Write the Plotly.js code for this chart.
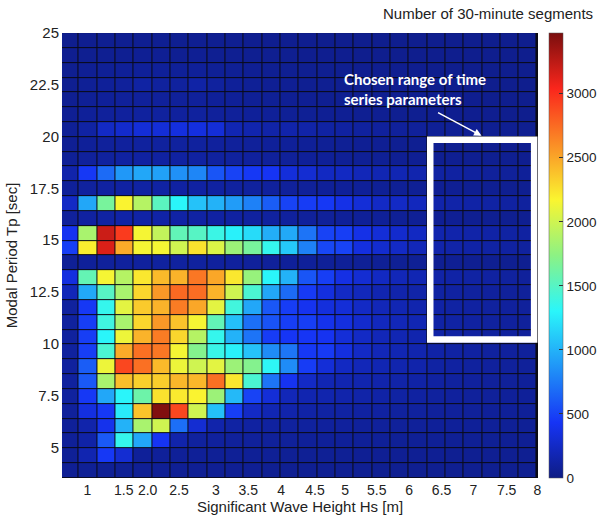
<!DOCTYPE html>
<html>
<head>
<meta charset="utf-8">
<script src="https://cdn.plot.ly/plotly-3.0.1.min.js"></script>
<style>
  html, body { margin: 0; padding: 0; background: #ffffff; }
  #chart { width: 597px; height: 521px; }
</style>
</head>
<body>
<div id="chart"></div>
<script>
// Hs bins (column index) tick labels
const hsTickLabels = ["1", "1.5", "2.0", "2.5", "3", "3.5", "4", "4.5", "5", "5.5", "6", "6.5", "7", "7.5", "8"];
const hsTickPos = [0.97, 2.96, 4.26, 5.97, 7.99, 9.75, 11.54, 13.39, 15.03, 16.76, 18.53, 20.30, 22.03, 23.85, 25.52];

// Tp bins: 30 rows from bottom (≈3.9 s) to top (≈24.6 s)
const tpFirst = 3.876;
const tpStep = 0.7161;

// Counts of 30-minute segments, rows bottom -> top, columns left -> right (26 Hs bins)
const r00 = [60,65,65,65,60,60,60,60,60,60,60,55,55,55,55,55,55,50,50,50,50,50,50,50,50,50];
const r01 = [70,170,450,300,80,80,75,75,70,70,70,70,65,65,65,65,60,60,60,60,60,55,55,55,55,55];
const r02 = [75,130,600,1350,950,430,150,100,95,90,90,85,85,80,80,80,75,75,70,70,70,65,65,65,60,60];
const r03 = [80,150,400,1000,1850,2000,700,300,150,120,110,105,100,100,95,95,90,90,85,85,80,80,75,75,70,70];
const r04 = [90,350,450,1250,2380,3450,2900,2000,1060,480,250,180,150,130,120,120,110,110,100,100,90,90,85,80,80,75];
const r05 = [100,450,950,1300,1600,2250,2220,2180,1800,1030,500,320,200,170,160,150,140,130,120,110,100,95,90,85,80,80];
const r06 = [100,600,1850,2400,2330,2340,2430,2430,2730,2230,1450,720,420,250,180,170,160,150,140,130,110,100,95,90,85,80];
const r07 = [100,620,2120,2900,2730,2420,2120,2000,2080,1800,1700,1320,830,470,320,240,200,180,160,150,120,110,100,95,90,85];
const r08 = [100,480,1450,2480,2730,2700,2150,1700,1370,1280,1070,830,730,450,460,350,250,200,180,160,130,120,110,100,95,90];
const r09 = [100,480,1300,2120,2450,2680,2300,1900,1350,1000,720,470,440,440,420,320,250,200,180,160,130,120,110,100,95,90];
const r10 = [100,480,1400,1850,2300,2560,2380,2150,1550,1060,700,575,480,480,400,350,280,220,200,180,130,120,110,100,95,90];
const r11 = [100,450,1350,2080,2350,2450,2680,2500,2080,1410,950,590,475,410,340,320,250,200,180,160,130,120,110,100,95,90];
const r12 = [200,960,1500,1850,2300,2560,2760,2740,2450,2000,1450,950,680,460,350,250,210,170,150,140,120,110,100,95,90,85];
const r13 = [350,1560,2150,1900,2230,2420,2450,2700,2500,2230,1780,1300,1000,580,480,370,300,240,200,180,140,130,120,110,100,90];
const r14 = [70,80,90,95,95,100,100,100,95,95,90,85,80,80,75,75,70,70,65,65,60,60,55,55,50,50];
const r15 = [480,2200,3150,2480,2150,2150,2000,2250,2050,1800,1650,1350,1100,780,520,500,350,290,250,200,150,140,130,120,110,100];
const r16 = [420,1850,3200,2950,2150,1950,1550,1500,1380,1280,1180,980,960,720,500,480,380,320,280,240,160,150,140,130,120,110];
const r17 = [90,110,120,130,130,130,125,120,115,110,105,100,95,90,85,80,75,75,70,70,60,60,55,55,50,50];
const r18 = [250,950,1650,2180,1900,1520,1300,1070,1000,900,780,620,500,470,450,380,320,250,250,220,150,140,130,120,110,100];
const r19 = [80,100,110,115,120,120,115,115,110,105,100,95,90,85,80,80,75,70,70,65,60,60,55,55,50,50];
const r20 = [150,450,680,880,950,920,850,800,580,500,450,430,330,300,240,240,200,180,180,160,120,110,100,90,85,80];
const r21 = [70,90,100,110,110,110,110,110,105,100,95,90,85,80,75,70,65,65,60,60,55,55,50,50,50,45];
const r22 = [60,80,90,95,100,100,100,100,95,90,85,80,80,75,70,65,60,60,55,55,50,50,50,45,45,45];
const r23 = [70,120,250,280,320,320,350,350,320,180,160,140,150,140,120,110,100,95,90,85,70,65,60,55,55,50];
const r24 = [60,80,90,95,100,100,95,100,90,85,80,75,70,65,60,60,55,55,50,50,45,45,45,45,40,40];
const r25 = [55,70,80,85,90,90,85,90,80,75,70,65,60,60,55,55,50,50,50,45,45,45,45,40,40,40];
const r26 = [50,70,80,90,120,100,100,130,100,80,70,60,60,55,55,50,50,50,45,45,40,40,40,40,40,40];
const r27 = [50,60,70,75,80,80,75,80,70,65,60,55,55,50,50,50,45,45,45,45,40,40,40,40,40,40];
const r28 = [45,50,55,55,60,60,55,60,55,55,50,50,50,45,45,45,40,40,40,40,40,40,40,40,40,40];
const r29 = [40,45,50,50,55,55,50,55,50,50,45,45,45,45,40,40,40,40,40,40,40,40,40,40,40,40];

const counts = [r00,r01,r02,r03,r04,r05,r06,r07,r08,r09,r10,r11,r12,r13,r14,r15,r16,r17,r18,r19,r20,r21,r22,r23,r24,r25,r26,r27,r28,r29];

const colorbarTitle = "Number of 30-minute segments";
const noteText = "Chosen range of time<br>series parameters";

const jetLike = [
  [0.000, 'rgb(14,28,132)'],
  [0.125, 'rgb(22,52,245)'],
  [0.375, 'rgb(42,246,250)'],
  [0.500, 'rgb(140,242,132)'],
  [0.625, 'rgb(250,245,48)'],
  [0.875, 'rgb(250,38,28)'],
  [1.000, 'rgb(122,14,14)']
];

const trace = {
  type: 'heatmap',
  z: counts,
  x0: 0, dx: 1,
  y0: tpFirst, dy: tpStep,
  zmin: 0, zmax: 3474,
  colorscale: jetLike,
  xgap: 1, ygap: 1,
  hoverinfo: 'z',
  colorbar: {
    x: 1.023, xanchor: 'left', xpad: 0,
    y: 0.5, yanchor: 'middle', len: 1, lenmode: 'fraction', ypad: 0,
    thickness: 14,
    outlinewidth: 0.5, outlinecolor: '#555',
    tickmode: 'linear', tick0: 0, dtick: 500,
    ticks: 'inside', ticklen: 4, tickcolor: '#333', tickwidth: 1,
    ticklabelstandoff: 0,
    tickfont: {family: 'Liberation Sans, Arial, sans-serif', size: 13.5, color: '#222'}
  }
};

const layout = {
  width: 597, height: 521,
  margin: {l: 62, r: 59, t: 33, b: 43, pad: 0, autoexpand: false},
  paper_bgcolor: '#ffffff',
  plot_bgcolor: '#0a0a14',
  font: {family: 'Liberation Sans, Arial, sans-serif', size: 15, color: '#222'},
  xaxis: {
    range: [-0.413, 25.56],
    tickmode: 'array', tickvals: hsTickPos, ticktext: hsTickLabels,
    tickangle: 0,
    ticks: '', showgrid: false, zeroline: false, showline: false,
    tickfont: {size: 14, color: '#222'},
    ticklabelstandoff: 2,
    automargin: false,
    title: {text: 'Significant Wave Height Hs [m]', font: {size: 15, color: '#222'}, standoff: 3}
  },
  yaxis: {
    range: [3.518, 25.005],
    tickmode: 'linear', tick0: 0, dtick: 2.5,
    ticks: '', showgrid: false, zeroline: false, showline: false,
    tickfont: {size: 15, color: '#222'},
    ticklabelstandoff: 2,
    automargin: false,
    title: {text: 'Modal Period Tp [sec]', font: {size: 15, color: '#222'}, standoff: 8}
  },
  shapes: [{
    type: 'rect', xref: 'x', yref: 'y',
    x0: 19.68, x1: 25.35, y0: 10.2, y1: 19.85,
    line: {color: '#ffffff', width: 6.5},
    fillcolor: 'rgba(0,0,0,0)'
  }],
  annotations: [
    {
      xref: 'x', yref: 'y', x: 14.85, y: 22.31,
      xanchor: 'left', yanchor: 'middle', align: 'left',
      text: noteText, showarrow: false,
      font: {family: 'Lato, Open Sans, sans-serif', size: 15, color: '#ffffff', weight: 'bold'}
    },
    {
      xref: 'x', yref: 'y', x: 22.48, y: 20.04,
      ax: -45, ay: -24, text: '', showarrow: true,
      arrowhead: 2, arrowsize: 1, arrowwidth: 1.5, arrowcolor: '#ffffff'
    },
    {
      xref: 'paper', yref: 'paper', x: 1.12, y: 1.043,
      xanchor: 'right', yanchor: 'middle',
      text: colorbarTitle, showarrow: false,
      font: {size: 15, color: '#222'}
    }
  ]
};

Plotly.newPlot('chart', [trace], layout, {displayModeBar: false, staticPlot: true});
</script>
</body>
</html>
